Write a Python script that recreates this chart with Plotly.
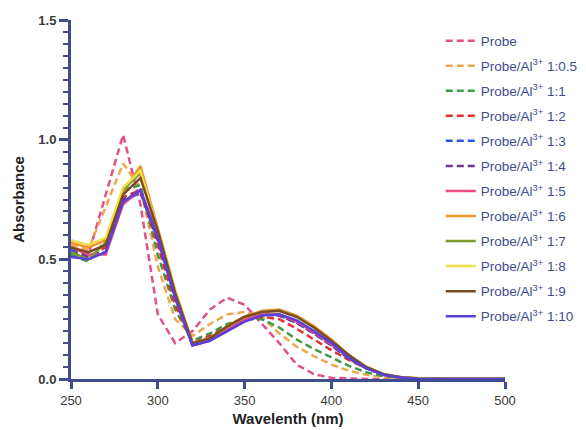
import plotly.graph_objects as go

wavelength = [250, 260, 270, 280, 290, 300, 310, 320, 330, 340, 350, 360, 370, 380,
              390, 400, 410, 420, 430, 440, 450, 460, 470, 480, 490, 500]

names = ["Probe", "Probe/Al<sup>3+</sup> 1:0.5", "Probe/Al<sup>3+</sup> 1:1",
         "Probe/Al<sup>3+</sup> 1:2", "Probe/Al<sup>3+</sup> 1:3", "Probe/Al<sup>3+</sup> 1:4",
         "Probe/Al<sup>3+</sup> 1:5", "Probe/Al<sup>3+</sup> 1:6", "Probe/Al<sup>3+</sup> 1:7",
         "Probe/Al<sup>3+</sup> 1:8", "Probe/Al<sup>3+</sup> 1:9", "Probe/Al<sup>3+</sup> 1:10"]

x_tick_values = [250, 300, 350, 400, 450, 500]
y_tick_values = [0, 0.5, 1.0, 1.5]
y_tick_labels = ["0.0", "0.5", "1.0", "1.5"]

probe = [0.52, 0.52, 0.77, 1.02, 0.73, 0.27, 0.15, 0.20, 0.29, 0.34, 0.31, 0.23, 0.15, 0.06,
         0.02, 0.005, 0.002, 0, 0, 0, 0, 0, 0, 0, 0, 0]
r0_5 = [0.56, 0.54, 0.72, 0.90, 0.80, 0.47, 0.25, 0.18, 0.23, 0.27, 0.28, 0.26, 0.19, 0.135,
        0.095, 0.06, 0.035, 0.018, 0.008, 0.002, 0.001, 0, 0, 0, 0, 0]
r1 = [0.52, 0.49, 0.58, 0.79, 0.81, 0.52, 0.29, 0.16, 0.19, 0.23, 0.25, 0.25, 0.215, 0.165,
      0.125, 0.09, 0.055, 0.028, 0.012, 0.004, 0.001, 0, 0, 0, 0, 0]
r2 = [0.53, 0.51, 0.55, 0.76, 0.79, 0.56, 0.31, 0.15, 0.18, 0.22, 0.25, 0.26, 0.25, 0.21,
      0.165, 0.12, 0.08, 0.045, 0.02, 0.007, 0.002, 0, 0, 0, 0, 0]
r3 = [0.54, 0.52, 0.53, 0.74, 0.78, 0.58, 0.34, 0.14, 0.17, 0.21, 0.25, 0.27, 0.265, 0.235,
      0.19, 0.14, 0.085, 0.045, 0.018, 0.006, 0.001, 0, 0, 0, 0, 0]
r4 = [0.53, 0.51, 0.53, 0.75, 0.78, 0.58, 0.34, 0.14, 0.16, 0.21, 0.25, 0.27, 0.265, 0.235,
      0.19, 0.14, 0.085, 0.045, 0.018, 0.006, 0.001, 0, 0, 0, 0, 0]
r5 = [0.55, 0.52, 0.52, 0.73, 0.79, 0.60, 0.35, 0.14, 0.16, 0.21, 0.25, 0.27, 0.27, 0.24,
      0.195, 0.145, 0.09, 0.048, 0.019, 0.006, 0.001, 0, 0, 0, 0, 0]
r6 = [0.57, 0.55, 0.58, 0.78, 0.89, 0.63, 0.37, 0.15, 0.17, 0.22, 0.26, 0.285, 0.29, 0.265,
      0.22, 0.165, 0.10, 0.05, 0.02, 0.007, 0.002, 0, 0, 0, 0, 0]
r7 = [0.53, 0.50, 0.57, 0.79, 0.86, 0.62, 0.36, 0.15, 0.17, 0.22, 0.26, 0.28, 0.285, 0.26,
      0.215, 0.16, 0.10, 0.05, 0.02, 0.007, 0.002, 0, 0, 0, 0, 0]
r8 = [0.58, 0.56, 0.59, 0.80, 0.87, 0.62, 0.37, 0.15, 0.17, 0.22, 0.26, 0.28, 0.285, 0.26,
      0.215, 0.16, 0.10, 0.05, 0.02, 0.007, 0.002, 0, 0, 0, 0, 0]
r9 = [0.55, 0.53, 0.56, 0.77, 0.84, 0.62, 0.36, 0.15, 0.17, 0.22, 0.26, 0.28, 0.285, 0.26,
      0.215, 0.16, 0.10, 0.05, 0.02, 0.007, 0.002, 0, 0, 0, 0, 0]
r10 = [0.51, 0.50, 0.53, 0.74, 0.79, 0.59, 0.34, 0.14, 0.16, 0.20, 0.24, 0.265, 0.27, 0.245,
       0.20, 0.15, 0.09, 0.045, 0.018, 0.006, 0.001, 0, 0, 0, 0, 0]

series = [probe, r0_5, r1, r2, r3, r4, r5, r6, r7, r8, r9, r10]
colors = ["#e3508a", "#f2a54a", "#3f9a45", "#e0302e", "#2b55e6", "#6d3494",
          "#ec4c84", "#f0922e", "#7d9a2a", "#eee04a", "#7b4a22", "#5b3fd8"]
dashed = [True] * 6 + [False] * 6

navy = "#3f4d8f"
fig = go.Figure()
for i, (nm, ys, c, d) in enumerate(zip(names, series, colors, dashed)):
    fig.add_trace(go.Scatter(
        x=wavelength, y=ys, name=nm, mode="lines",
        legendgroup=f"g{i}",
        line=dict(color=c, width=2.5, dash="7px,4px" if d else "solid"),
    ))

fig.update_layout(
    width=578, height=422,
    margin=dict(l=63, r=81, t=12, b=51, autoexpand=False),
    paper_bgcolor="white", plot_bgcolor="white",
    font=dict(family="Liberation Sans, Arial, sans-serif", size=13, color="#333333"),
    legend=dict(x=0.852, y=0.985, xanchor="left", yanchor="top",
                bgcolor="rgba(0,0,0,0)", tracegroupgap=4.5,
                font=dict(size=13.5, color=navy), itemwidth=30),
    xaxis=dict(range=[250, 500], tickvals=x_tick_values,
               showline=True, linecolor=navy, linewidth=3, ticks="outside",
               ticklen=7, tickwidth=3, tickcolor=navy, showgrid=False, zeroline=False,
               automargin=False, tickprefix="<b>", ticksuffix="</b>",
               tickfont=dict(size=13, color="#3a3a3a"),
               title=dict(text="<b>Wavelenth (nm)</b>", font=dict(size=15, color="#222222"),
                          standoff=7)),
    yaxis=dict(range=[0, 1.5], tickvals=y_tick_values, ticktext=[f"<b>{t}</b>" for t in y_tick_labels],
               showline=True, linecolor=navy, linewidth=3, ticks="outside",
               ticklen=9, tickwidth=3, tickcolor=navy, showgrid=False, zeroline=False,
               automargin=False,
               minor=dict(tickvals=[i * 0.05 for i in range(31)], ticks="outside", ticklen=5,
                          tickwidth=2, tickcolor=navy, showgrid=False),
               tickfont=dict(size=13, color="#3a3a3a"),
               title=dict(text="<b>Absorbance</b>", font=dict(size=15, color="#222222"),
                          standoff=11)),
)

fig.write_html("out.html")
